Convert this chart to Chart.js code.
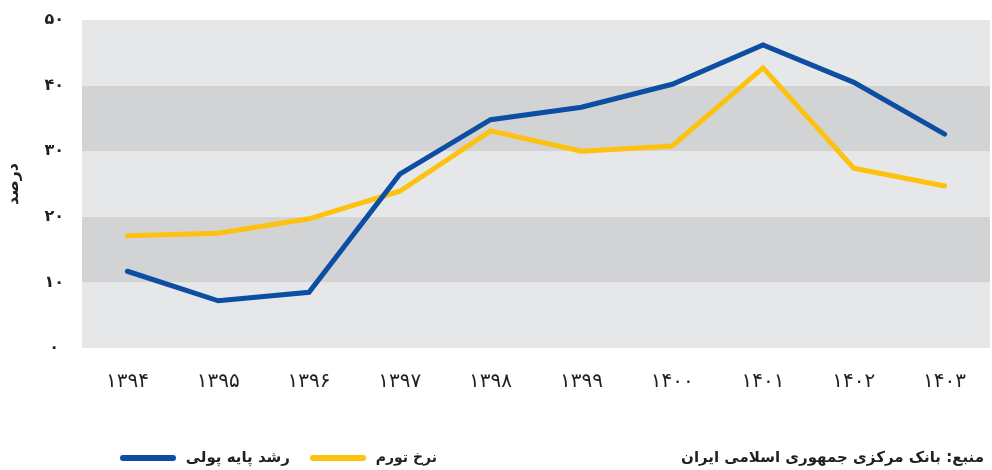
<!DOCTYPE html>
<html><head><meta charset="utf-8">
<script src="https://cdn.jsdelivr.net/npm/chart.js@4"></script>
<style>
html,body{margin:0;padding:0;background:#fff;}
#wrap{position:relative;width:992px;height:470px;}
canvas{position:absolute;left:0;top:0;}
.lg{position:absolute;font-family:"DejaVu Sans",sans-serif;font-weight:bold;font-size:15px;color:#231f20;direction:rtl;white-space:nowrap;line-height:20px;}
.ln{position:absolute;height:6px;border-radius:3px;}
</style></head><body>
<div id="wrap">
<canvas id="c" width="992" height="470"></canvas>
<div class="ln" style="left:120px;top:455px;width:56px;background:#0d4ea3"></div>
<div class="lg" style="right:702px;top:447px;">رشد پایه پولی</div>
<div class="ln" style="left:310px;top:455px;width:56px;background:#fdc210"></div>
<div class="lg" style="right:555px;top:447px;font-size:14px;">نرخ تورم</div>
<div class="lg" style="right:8px;top:447px;">منبع: بانک مرکزی جمهوری اسلامی ایران</div>
</div>
<script>
const categories = ['۱۳۹۴','۱۳۹۵','۱۳۹۶','۱۳۹۷','۱۳۹۸','۱۳۹۹','۱۴۰۰','۱۴۰۱','۱۴۰۲','۱۴۰۳'];
const monetaryBaseGrowth = [11.7, 7.2, 8.5, 26.5, 34.8, 36.7, 40.2, 46.2, 40.5, 32.6];
const inflationRate = [17.1, 17.5, 19.7, 23.9, 33.1, 30.0, 30.8, 42.7, 27.4, 24.7];
const yTickLabels = ['۰','۱۰','۲۰','۳۰','۴۰','۵۰'];
const seriesNames = ['رشد پایه پولی','نرخ تورم'];
const yTitle = 'درصد';

const bands = {
  id:'bands',
  beforeDraw(chart){
    const {ctx, chartArea:a, scales:{y}} = chart;
    ctx.save();
    for(let v=0; v<50; v+=10){
      const t = y.getPixelForValue(v+10), b = y.getPixelForValue(v);
      ctx.fillStyle = (v/10)%2===1 ? '#d1d3d4' : '#e6e7e8';
      ctx.fillRect(a.left, t, a.right-a.left, b-t);
    }
    ctx.restore();
  }
};

new Chart(document.getElementById('c'), {
  type:'line',
  data:{
    labels:categories,
    datasets:[
      {label:seriesNames[0], data:monetaryBaseGrowth, borderColor:'#0d4ea3', backgroundColor:'#0d4ea3', borderWidth:5, pointRadius:0, tension:0, borderCapStyle:'round', borderJoinStyle:'miter'},
      {label:seriesNames[1], data:inflationRate, borderColor:'#fdc210', backgroundColor:'#fdc210', borderWidth:5, pointRadius:0, tension:0, borderCapStyle:'round', borderJoinStyle:'miter'}
    ]
  },
  options:{
    responsive:false, animation:false,
    layout:{padding:{top:20,right:2,bottom:54,left:4}},
    plugins:{legend:{display:false}, tooltip:{enabled:false}},
    scales:{
      x:{
        offset:true,
        grid:{display:false, drawTicks:false},
        border:{display:false},
        ticks:{padding:22, maxRotation:0, color:'#231f20', font:{family:'DejaVu Sans', size:20}}
      },
      y:{
        min:0, max:50,
        afterFit(s){ s.width = 78; s.paddingTop = 0; s.paddingBottom = 0; },
        grid:{display:false, drawTicks:false},
        border:{display:false},
        title:{display:true, text:yTitle, color:'#231f20', font:{family:'DejaVu Sans', size:16, weight:'bold'}, padding:{top:0,bottom:0}},
        ticks:{stepSize:10, padding:18, crossAlign:'center', color:'#231f20', font:{family:'DejaVu Sans', size:16, weight:'bold'},
          callback:(v)=> yTickLabels[v/10]}
      }
    }
  },
  plugins:[bands]
});
</script>
</body></html>
